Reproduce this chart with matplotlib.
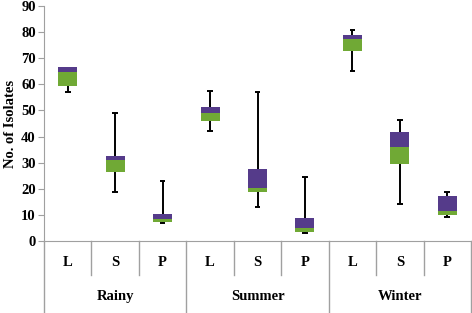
import matplotlib
matplotlib.use("Agg")
import matplotlib.pyplot as plt
import numpy as np

# data
seasons = ["Rainy", "Summer", "Winter"]
parts = ["L", "S", "P"]
q1 = [59.5, 26.6, 7.4, 45.9, 18.7, 3.3, 72.7, 29.6, 10.0]
med = [64.9, 31.0, 8.4, 49.2, 20.2, 5.0, 77.5, 36.1, 11.6]
q3 = [66.5, 32.6, 10.2, 51.5, 27.5, 8.9, 78.9, 41.8, 17.4]
lo = [57.2, 18.9, 6.9, 42.0, 12.9, 3.1, 65.1, 14.1, 9.1]
hi = [66.3, 49.2, 22.9, 57.6, 57.2, 24.6, 81.0, 46.2, 18.8]

green = "#70a935"
purple = "#553b8a"
grey = "#a0a0a0"

plt.rcParams['font.family'] = ['Liberation Serif', 'DejaVu Serif']
plt.rcParams['font.weight'] = 'bold'

fig = plt.figure(figsize=(4.72, 3.13), dpi=100)
ax = fig.add_axes([44/472, 72/313, 427/472, 235/313])

x = np.arange(len(q1)) + 0.5
q1 = np.array(q1); med = np.array(med); q3 = np.array(q3)

# whiskers
ax.vlines(x, lo, hi, color="black", lw=1.4, zorder=1)
ax.hlines(lo, x - 0.06, x + 0.06, color="black", lw=1.4, zorder=1)
ax.hlines(hi, x - 0.06, x + 0.06, color="black", lw=1.4, zorder=1)

# stacked boxes
ax.bar(x, med - q1, bottom=q1, width=0.4, color=green, zorder=2)
ax.bar(x, q3 - med, bottom=med, width=0.4, color=purple, zorder=2)

ax.set_xlim(0, 9)
ax.set_ylim(0, 90)
ax.set_yticks(range(0, 91, 10))
ax.tick_params(axis='y', labelsize=10.5, length=4, color=grey, pad=2)
ax.set_xticks([])
for s in ["top", "right"]:
    ax.spines[s].set_visible(False)
ax.spines["left"].set_color(grey)
ax.spines["bottom"].set_color(grey)
ax.set_ylabel("No. of Isolates", fontsize=10.5, fontweight="bold", labelpad=3)

# category axis drawn below
tr = ax.get_xaxis_transform()
ax.plot([0, 0], [0, -0.31], color=grey, lw=1, transform=tr, clip_on=False)
for i in range(1, 10):
    y_end = -0.31 if i % 3 == 0 else -0.145
    ax.plot([i, i], [0, y_end], color=grey, lw=1, transform=tr, clip_on=False)
for i in range(9):
    ax.text(i + 0.5, -0.09, parts[i % 3], transform=tr, ha="center", va="center",
            fontsize=10.5, fontweight="bold")
for j, s in enumerate(seasons):
    ax.text(3 * j + 1.5, -0.238, s, transform=tr, ha="center", va="center",
            fontsize=10.5, fontweight="bold")

fig.savefig("out.png", dpi=100)
